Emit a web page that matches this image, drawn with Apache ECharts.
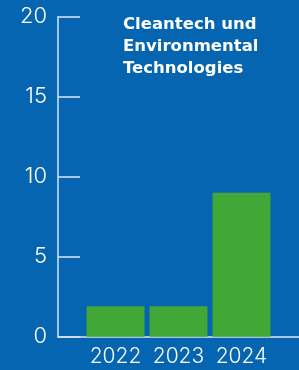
<!DOCTYPE html>
<html>
<head>
<meta charset="utf-8">
<script src="https://cdn.jsdelivr.net/npm/echarts@6/dist/echarts.min.js"></script>
<style>
  * { margin: 0; padding: 0; }
  html, body { width: 299px; height: 370px; background: #0565b0; }
  #main { width: 299px; height: 370px; }
</style>
</head>
<body>
<div id="main"></div>
<script>
var years = ['2022', '2023', '2024'];
var values = [1.9, 1.9, 9];
var yTicks = [0, 5, 10, 15, 20];
var titleText = 'Cleantech und\nEnvironmental\nTechnologies';

var chart = echarts.init(document.getElementById('main'));
var axisColor = '#dce6f2';
var numFont = 'Inter';

chart.setOption({
    backgroundColor: '#0565b0',
    title: {
        text: titleText,
        left: 118,
        top: 9,
        textStyle: {
            color: '#ffffff',
            fontFamily: 'DejaVu Sans',
            fontWeight: 'bold',
            fontSize: 16.5,
            lineHeight: 21.7
        }
    },
    grid: [
        {left: 58, right: 0, top: 16.7, bottom: 33.3},
        {left: 84, width: 189, top: 16.7, bottom: 33.3}
    ],
    xAxis: [{
        gridIndex: 0,
        type: 'category',
        data: [],
        axisLine: {lineStyle: {color: axisColor, width: 1.5}},
        axisTick: {show: false},
        axisLabel: {show: false}
    }, {
        gridIndex: 1,
        type: 'category',
        data: years,
        axisLine: {show: false},
        axisTick: {show: false},
        axisLabel: {
            interval: 0,
            color: '#ffffff',
            fontFamily: numFont,
            fontWeight: 300,
            fontSize: 21,
            margin: 9
        }
    }],
    yAxis: [{
        gridIndex: 0,
        type: 'value',
        min: yTicks[0],
        max: yTicks[yTicks.length - 1],
        interval: 5,
        axisLine: {show: true, lineStyle: {color: axisColor, width: 1.5}},
        axisTick: {show: true, inside: true, length: 22, lineStyle: {color: axisColor, width: 1.5}},
        splitLine: {show: false},
        axisLabel: {
            color: '#ffffff',
            fontFamily: numFont,
            fontWeight: 300,
            fontSize: 22,
            margin: 11
        }
    }, {
        gridIndex: 1,
        type: 'value',
        min: yTicks[0],
        max: yTicks[yTicks.length - 1],
        show: false
    }],
    series: [{
        type: 'bar',
        xAxisIndex: 1,
        yAxisIndex: 1,
        data: values,
        barCategoryGap: '8%',
        itemStyle: {color: '#41a838'},
        silent: true
    }]
});
</script>
</body>
</html>
